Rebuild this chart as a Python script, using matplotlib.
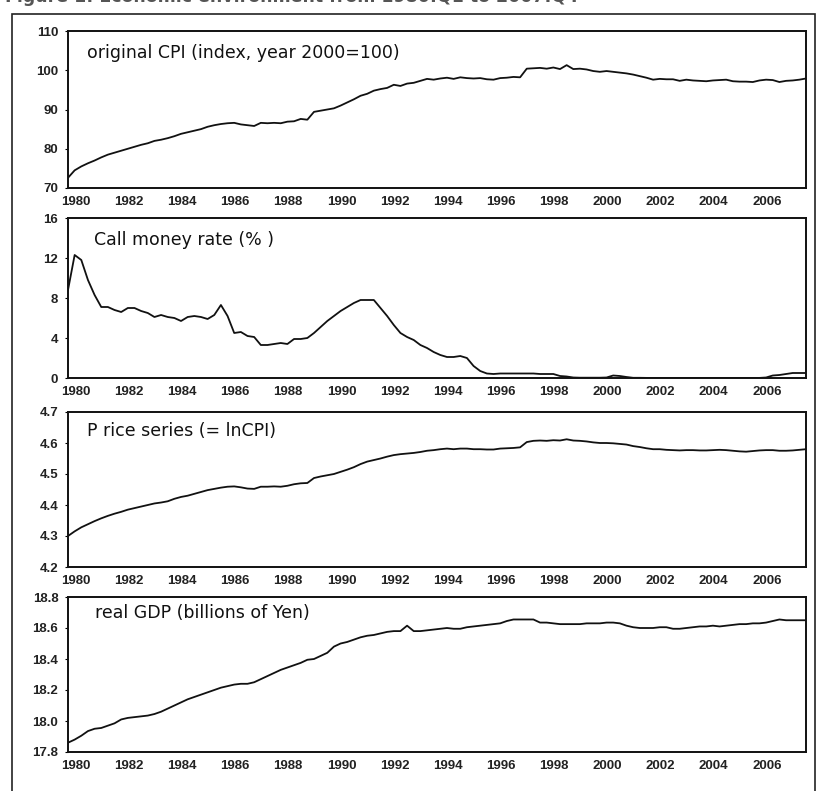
import numpy as np
import matplotlib
matplotlib.use("Agg")
import matplotlib.pyplot as plt
from matplotlib.patches import Rectangle

plt.rcParams['font.family'] = ['Liberation Sans', 'DejaVu Sans']

# quarterly data 1980Q1 .. 2007Q4, one row per year
years = list(range(1980, 2008))

cpi = [
    72.6, 74.5, 75.5, 76.3,
    77.0, 77.8, 78.5, 79.0,
    79.5, 80.0, 80.5, 81.0,
    81.4, 82.0, 82.3, 82.7,
    83.2, 83.8, 84.2, 84.6,
    85.0, 85.6, 86.0, 86.3,
    86.5, 86.6, 86.2, 86.0,
    85.8, 86.6, 86.5, 86.6,
    86.5, 86.9, 87.0, 87.6,
    87.4, 89.4, 89.7, 90.0,
    90.3, 91.0, 91.8, 92.6,
    93.5, 94.0, 94.8, 95.2,
    95.5, 96.3, 96.0, 96.6,
    96.8, 97.3, 97.8, 97.6,
    97.9, 98.1, 97.8, 98.2,
    98.0, 97.9, 98.0, 97.7,
    97.6, 98.0, 98.1, 98.3,
    98.2, 100.4, 100.5, 100.6,
    100.4, 100.7, 100.3, 101.3,
    100.3, 100.4, 100.2, 99.8,
    99.6, 99.8, 99.6, 99.4,
    99.2, 98.9, 98.5, 98.1,
    97.6, 97.8, 97.7, 97.7,
    97.3, 97.6, 97.4, 97.3,
    97.2, 97.4, 97.5, 97.6,
    97.2, 97.1, 97.1, 97.0,
    97.4, 97.6, 97.5, 97.0,
    97.3, 97.4, 97.6, 97.9,
]

call_rate = [
    8.8, 12.3, 11.8, 9.8,
    8.3, 7.1, 7.1, 6.8,
    6.6, 7.0, 7.0, 6.7,
    6.5, 6.1, 6.3, 6.1,
    6.0, 5.7, 6.1, 6.2,
    6.1, 5.9, 6.3, 7.3,
    6.2, 4.5, 4.6, 4.2,
    4.1, 3.3, 3.3, 3.4,
    3.5, 3.4, 3.9, 3.9,
    4.0, 4.5, 5.1, 5.7,
    6.2, 6.7, 7.1, 7.5,
    7.8, 7.8, 7.8, 7.0,
    6.2, 5.3, 4.5, 4.1,
    3.8, 3.3, 3.0, 2.6,
    2.3, 2.1, 2.1, 2.2,
    2.0, 1.2, 0.7, 0.45,
    0.4, 0.45, 0.45, 0.45,
    0.45, 0.45, 0.45, 0.4,
    0.4, 0.4, 0.2, 0.15,
    0.05, 0.03, 0.03, 0.03,
    0.03, 0.05, 0.25, 0.2,
    0.1, 0.02, 0.02, 0.01,
    0.01, 0.01, 0.01, 0.01,
    0.01, 0.01, 0.01, 0.01,
    0.01, 0.01, 0.01, 0.01,
    0.01, 0.01, 0.01, 0.01,
    0.01, 0.05, 0.25, 0.3,
    0.4, 0.5, 0.5, 0.5,
]

ln_cpi = [
    4.300, 4.315, 4.328, 4.338,
    4.348, 4.357, 4.365, 4.372,
    4.378, 4.385, 4.390, 4.395,
    4.400, 4.405, 4.408, 4.412,
    4.420, 4.426, 4.430, 4.436,
    4.442, 4.448, 4.452, 4.456,
    4.459, 4.460, 4.457, 4.453,
    4.452, 4.459, 4.459, 4.460,
    4.459, 4.462, 4.467, 4.470,
    4.471, 4.487, 4.492, 4.496,
    4.500, 4.507, 4.514, 4.522,
    4.532, 4.540, 4.545, 4.550,
    4.556, 4.561, 4.564, 4.566,
    4.568, 4.571, 4.575, 4.577,
    4.580, 4.582, 4.580, 4.582,
    4.582, 4.580, 4.580, 4.579,
    4.579, 4.582, 4.583, 4.584,
    4.586, 4.603, 4.607, 4.608,
    4.607, 4.609, 4.608, 4.612,
    4.608, 4.607, 4.605, 4.602,
    4.600, 4.600, 4.599, 4.597,
    4.595, 4.590, 4.587, 4.583,
    4.580, 4.580, 4.578, 4.577,
    4.576, 4.577, 4.577, 4.576,
    4.576, 4.577, 4.578, 4.577,
    4.575, 4.573, 4.572, 4.574,
    4.576, 4.577, 4.577, 4.575,
    4.575, 4.576, 4.578, 4.580,
]

real_gdp = [
    17.86, 17.88, 17.905, 17.935,
    17.95, 17.955, 17.97, 17.985,
    18.01, 18.02, 18.025, 18.03,
    18.035, 18.045, 18.06, 18.08,
    18.10, 18.12, 18.14, 18.155,
    18.17, 18.185, 18.20, 18.215,
    18.225, 18.235, 18.24, 18.24,
    18.25, 18.27, 18.29, 18.31,
    18.33, 18.345, 18.36, 18.375,
    18.395, 18.40, 18.42, 18.44,
    18.48, 18.50, 18.51, 18.525,
    18.54, 18.55, 18.555, 18.565,
    18.575, 18.58, 18.58, 18.615,
    18.58, 18.58, 18.585, 18.59,
    18.595, 18.60, 18.595, 18.595,
    18.605, 18.61, 18.615, 18.62,
    18.625, 18.63, 18.645, 18.655,
    18.655, 18.655, 18.655, 18.635,
    18.635, 18.63, 18.625, 18.625,
    18.625, 18.625, 18.63, 18.63,
    18.63, 18.635, 18.635, 18.63,
    18.615, 18.605, 18.60, 18.60,
    18.60, 18.605, 18.605, 18.595,
    18.595, 18.60, 18.605, 18.61,
    18.61, 18.615, 18.61, 18.615,
    18.62, 18.625, 18.625, 18.63,
    18.63, 18.635, 18.645, 18.655,
    18.65, 18.65, 18.65, 18.65,
]

panel_titles = [
    "original CPI (index, year 2000=100)",
    "Call money rate (% )",
    "P rice series (= lnCPI)",
    "real GDP (billions of Yen)",
]
y_ticks = [
    [70, 80, 90, 100, 110],
    [0, 4, 8, 12, 16],
    [4.2, 4.3, 4.4, 4.5, 4.6, 4.7],
    [17.8, 18.0, 18.2, 18.4, 18.6, 18.8],
]
y_labels = [
    ["70", "80", "90", "100", "110"],
    ["0", "4", "8", "12", "16"],
    ["4.2", "4.3", "4.4", "4.5", "4.6", "4.7"],
    ["17.8", "18.0", "18.2", "18.4", "18.6", "18.8"],
]
x_label_years = list(range(1980, 2007, 2))

W, H = 820, 791
fig = plt.figure(figsize=(W / 100, H / 100), dpi=100)

# outer frame (bottom runs off the page like the scan)
fig.patches.append(Rectangle((12 / W, -0.05), (815 - 12) / W, 1.05 - 14 / H,
                             transform=fig.transFigure, fill=False,
                             edgecolor="#222222", linewidth=1.2))
# heading is cut by the top edge in the scan
fig.text(5 / W, 1.0 + 3 / H, "Figure 1: Economic environment from 1980:Q1 to 2007:Q4",
         ha="left", va="center", fontsize=12.5, fontweight="bold",
         family="DejaVu Sans", color="#555555")

# pixel boxes (top, bottom) of the four panels
boxes = [(31, 188), (218, 378), (412, 567), (597, 752)]
title_pos = [(0.026, 0.86), (0.035, 0.86), (0.026, 0.875), (0.037, 0.895)]
series = [cpi, call_rate, ln_cpi, real_gdp]

t = np.array([y + q / 4 for y in years for q in range(4)])
left, right = 68, 806

for i in range(4):
    top, bot = boxes[i]
    ax = fig.add_axes([left / W, 1 - bot / H, (right - left) / W, (bot - top) / H])
    ax.plot(t, series[i], color="#111111", linewidth=1.3)
    ax.set_xlim(1980, 2007.75)
    ax.set_ylim(y_ticks[i][0], y_ticks[i][-1])
    ax.set_yticks(y_ticks[i])
    ax.set_yticklabels(y_labels[i])
    ax.set_xticks([y + 0.28 for y in x_label_years])
    ax.set_xticklabels([str(y) for y in x_label_years])
    ax.tick_params(axis="x", length=0, pad=6, labelsize=9.5)
    ax.tick_params(axis="y", length=2, width=0.8, pad=5, labelsize=9.5)
    for lab in ax.get_xticklabels() + ax.get_yticklabels():
        lab.set_fontweight("bold")
        lab.set_color("#222222")
    for sp in ax.spines.values():
        sp.set_linewidth(1.4)
        sp.set_color("#111111")
    tx, ty = title_pos[i]
    ax.text(tx, ty, panel_titles[i], transform=ax.transAxes, ha="left",
            va="center", fontsize=12.5, family="DejaVu Sans", color="#111111")

fig.savefig("out.png", dpi=100)
